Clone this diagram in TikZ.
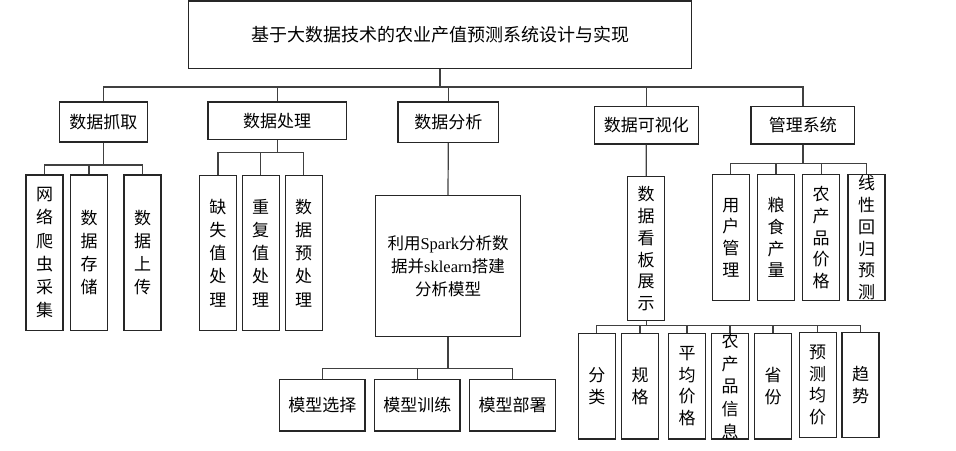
\documentclass[tikz,border=0pt]{standalone}
\usepackage{fontspec}
\setmainfont{Noto Sans CJK SC}
\newfontfamily\lat{Liberation Serif}
\begin{document}
\begin{tikzpicture}[x=1pt,y=-1pt,
  box/.style={draw=black!85, line width=1.2pt, inner sep=0pt, align=center},
  hbox/.style={box, font=\fontsize{17}{20}\selectfont},
  vbox/.style={box, minimum width=37pt, font=\fontsize{17}{23.2}\selectfont},
  vboxb/.style={box, minimum width=37pt, font=\fontsize{17}{21.7}\selectfont},
  conn/.style={draw=black!75, line width=1.2pt}]
\path[fill=white, use as bounding box] (0,0) rectangle (956,450);

% root
\node[hbox, minimum width=502.6pt, minimum height=67.3pt, font=\fontsize{18}{20}\selectfont] (top) at (440,34.7) {基于大数据技术的农业产值预测系统设计与实现};

% level 1
\node[hbox, minimum width=88pt, minimum height=40pt] (a) at (103.3,122) {数据抓取};
\node[hbox, minimum width=138.3pt, minimum height=37.3pt] (b) at (277.2,120.7) {数据处理};
\node[hbox, minimum width=100.7pt, minimum height=40.3pt] (c) at (448.3,122.2) {数据分析};
\node[hbox, minimum width=104pt, minimum height=37.3pt] (d) at (646.3,125.3) {数据可视化};
\node[hbox, minimum width=103.7pt, minimum height=37.3pt] (e) at (802.9,125.3) {管理系统};

% 数据抓取 children
\node[vbox, minimum height=155.4pt] (a1) at (44.5,252.7) {网\\络\\爬\\虫\\采\\集};
\node[vbox, minimum height=155.4pt] (a2) at (89,252.7) {数\\据\\存\\储};
\node[vbox, minimum height=155.4pt] (a3) at (142.5,252.7) {数\\据\\上\\传};

% 数据处理 children
\node[vbox, minimum height=154.7pt] (b1) at (217.9,253) {缺\\失\\值\\处\\理};
\node[vbox, minimum height=154.7pt] (b2) at (260.7,253) {重\\复\\值\\处\\理};
\node[vbox, minimum height=154.7pt] (b3) at (303.6,253) {数\\据\\预\\处\\理};

% 数据分析 children
\node[box, minimum width=145.3pt, minimum height=140.7pt, font=\fontsize{16.5}{23.2}\selectfont] (c1) at (448,266) {利用{\lat Spark}分析数\\据并{\lat sklearn}搭建\\分析模型};
\node[hbox, minimum width=85.4pt, minimum height=51.4pt] (c2) at (322.3,405.3) {模型选择};
\node[hbox, minimum width=85.4pt, minimum height=51.4pt] (c3) at (417.3,405.3) {模型训练};
\node[hbox, minimum width=85.8pt, minimum height=51.4pt] (c4) at (512.5,405.3) {模型部署};

% 数据可视化 children
\node[vboxb, minimum height=144pt] (d1) at (646.2,248.7) {数\\据\\看\\板\\展\\示};
\node[vboxb, minimum height=105.7pt] (d2) at (596.8,386.2) {分\\类};
\node[vboxb, minimum height=105.7pt] (d3) at (640,386.2) {规\\格};
\node[vboxb, minimum height=105.7pt] (d4) at (687,386.2) {平\\均\\价\\格};
\node[vboxb, minimum height=105.7pt, font=\fontsize{17}{22.6}\selectfont] (d5) at (730,386.2) {农\\产\\品\\信\\息};
\node[vboxb, minimum height=105.7pt] (d6) at (773,386.2) {省\\份};
\node[vboxb, minimum height=105.4pt] (d7) at (817.7,385) {预\\测\\均\\价};
\node[vboxb, minimum height=105.4pt] (d8) at (860.5,385) {趋\\势};

% 管理系统 children
\node[vboxb, minimum height=126pt] (e1) at (730.8,237.7) {用\\户\\管\\理};
\node[vboxb, minimum height=126pt] (e2) at (776,237.7) {粮\\食\\产\\量};
\node[vboxb, minimum height=126pt] (e3) at (821.2,237.7) {农\\产\\品\\价\\格};
\node[vboxb, minimum height=126pt] (e4) at (866.5,237.7) {线\\性\\回\\归\\预\\测};

% buses
\coordinate (B0) at (0,87);
\coordinate (Ba) at (0,165);
\coordinate (Bb) at (0,152.5);
\coordinate (Bc) at (0,368.2);
\coordinate (Bd) at (0,325.7);
\coordinate (Be) at (0,163.7);

\foreach \n in {a,b,c,d,e}
  \draw[conn] (top.south) -- (top.south |- B0) -| (\n.north);
\foreach \n in {a1,a2,a3}
  \draw[conn] (a.south) -- (a.south |- Ba) -| (\n.north);
\foreach \n in {b1,b2,b3}
  \draw[conn] (b.south) -- (b.south |- Bb) -| (\n.north);
\draw[conn] (c.south) -- (c1.north);
\foreach \n in {c2,c3,c4}
  \draw[conn] (c1.south) -- (c1.south |- Bc) -| (\n.north);
\draw[conn] (d.south) -- (d1.north);
\foreach \n in {d2,d3,d4,d5,d6,d7,d8}
  \draw[conn] (d1.south) -- (d1.south |- Bd) -| (\n.north);
\foreach \n in {e1,e2,e3,e4}
  \draw[conn] (e.south) -- (e.south |- Be) -| (\n.north);
\end{tikzpicture}
\end{document}
